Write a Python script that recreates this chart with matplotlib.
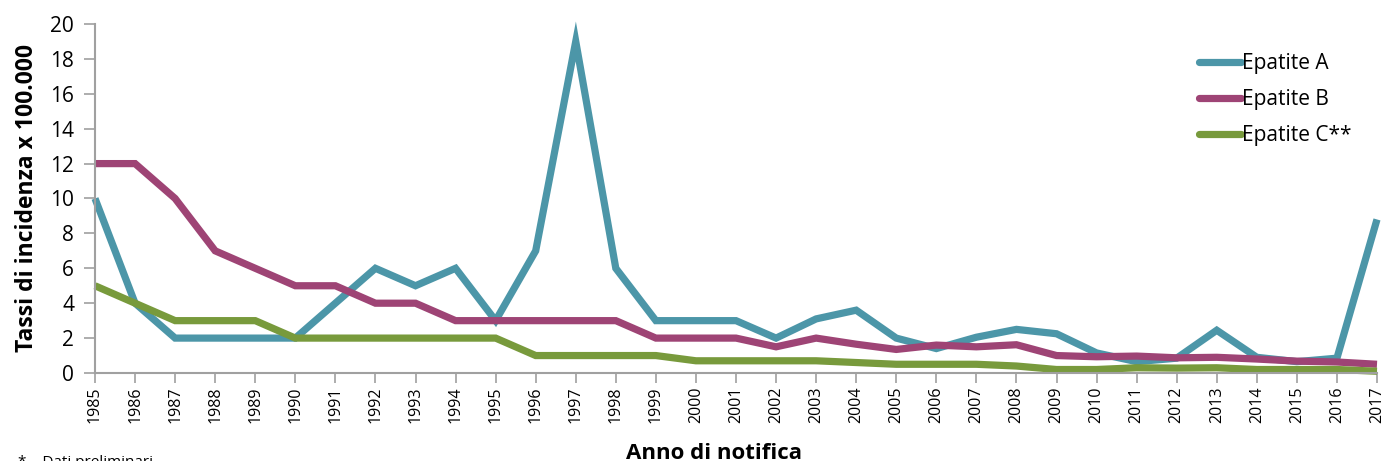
import matplotlib
matplotlib.use("Agg")
import matplotlib.pyplot as plt

years = list(range(1985, 2018))
epatite_a = [10, 4, 2, 2, 2, 2, 4, 6, 5, 6, 3, 7, 19, 6, 3, 3, 3, 2, 3.1, 3.6,
             2, 1.4, 2.05, 2.5, 2.25, 1.15, 0.65, 0.85, 2.45, 0.9, 0.65, 0.85, 8.8]
epatite_b = [12, 12, 10, 7, 6, 5, 5, 4, 4, 3, 3, 3, 3, 3, 2, 2, 2, 1.5, 2.0, 1.65,
             1.35, 1.6, 1.5, 1.62, 1.0, 0.93, 0.97, 0.87, 0.9, 0.8, 0.68, 0.63, 0.5]
epatite_c = [5, 4, 3, 3, 3, 2, 2, 2, 2, 2, 2, 1, 1, 1, 1, 0.7, 0.7, 0.7, 0.7, 0.6,
             0.5, 0.5, 0.5, 0.4, 0.2, 0.2, 0.3, 0.28, 0.3, 0.2, 0.2, 0.2, 0.1]
series_names = ["Epatite A", "Epatite B", "Epatite C**"]
colors = ["#4C96A8", "#9E4475", "#789A3C"]
yticks = list(range(0, 21, 2))

plt.rcParams['font.family'] = ['Open Sans', 'DejaVu Sans']

fig = plt.figure(figsize=(13.83, 4.61), dpi=100)
ax = fig.add_axes([95/1383, (461-373)/461, (1377-95)/1383, (373-24)/461])

for vals, name, c in zip([epatite_a, epatite_b, epatite_c], series_names, colors):
    ax.plot(years, vals, color=c, lw=5.2, label=name, solid_joinstyle='miter', solid_capstyle='butt')

ax.set_xlim(years[0], years[-1])
ax.set_ylim(0, 20)
ax.set_yticks(yticks)
ax.set_xticks(years)
ax.set_xticklabels([str(y) for y in years], rotation=90, fontsize=11.5)
ax.tick_params(axis='y', labelsize=15, length=8, color='#A0A0A0', width=1.2, pad=7)
ax.tick_params(axis='x', length=7, color='#A0A0A0', width=1.2, pad=3)
for s in ['top', 'right']:
    ax.spines[s].set_visible(False)
for s in ['left', 'bottom']:
    ax.spines[s].set_color('#A0A0A0')
    ax.spines[s].set_linewidth(1.5)
for l in ax.lines:
    l.set_clip_on(False)

ax.set_ylabel("Tassi di incidenza x 100.000", fontsize=16.5, fontweight='bold', labelpad=8)
fig.text(714/1383, 1 - 453/461, "Anno di notifica", fontsize=16, fontweight='bold',
         ha='center', va='center')
fig.text(18/1383, 1 - 462/461, "*    Dati preliminari", fontsize=11, ha='left', va='center')

leg = ax.legend(loc='upper left', bbox_to_anchor=(1189/1383, 1 - 43/461),
                bbox_transform=fig.transFigure, frameon=False, fontsize=15,
                handlelength=2.0, handletextpad=0.05, labelspacing=0.72, borderpad=0)
for h in leg.get_lines():
    h.set_solid_capstyle('round')

fig.savefig("out.png", dpi=100)
